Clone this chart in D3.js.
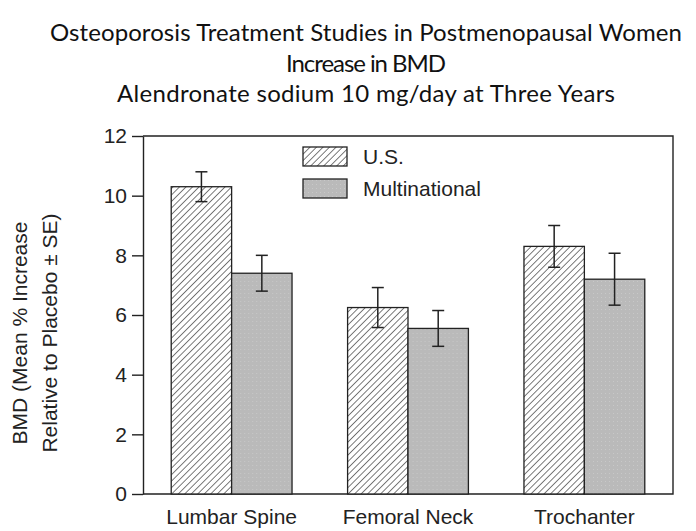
<!DOCTYPE html>
<html lang="en">
<head>
  <meta charset="UTF-8" />
  <title>Increase in BMD - Alendronate</title>
  <style>
    body {
      margin: 0;
      background: #fff;
    }
    .title {
      font-family: Lato, "Open Sans", sans-serif;
      font-size: 24px;
      fill: #111;
    }
    .axis text, .lab {
      font-family: "Liberation Sans", Arial, sans-serif;
      font-size: 21px;
      fill: #222;
    }
    .axis path, .axis line {
      stroke: #222;
      stroke-width: 1.4;
    }
  </style>
</head>
<body>
  <div id="chart"></div>
  <script src="https://d3js.org/d3.v7.min.js"></script>
  <script>
    // data
    var sites = ["Lumbar Spine", "Femoral Neck", "Trochanter"];
    var seriesNames = ["U.S.", "Multinational"];
    var usMean = [10.3, 6.25, 8.3];
    var usSE = [0.5, 0.67, 0.7];
    var multiMean = [7.4, 5.55, 7.2];
    var multiSE = [0.6, 0.6, 0.87];
    var yTicks = [0, 2, 4, 6, 8, 10, 12];
    var titleLines = [
      "Osteoporosis Treatment Studies in Postmenopausal Women",
      "Increase in BMD",
      "Alendronate sodium 10 mg/day at Three Years"
    ];
    var titleWidths = [632, 160, 498];

    var W = 696, H = 531;
    var margin = {top: 136, right: 23, bottom: 37, left: 143},
        width = W - margin.left - margin.right,
        height = H - margin.top - margin.bottom;

    var svg = d3.select("#chart")
      .append("svg")
      .attr("width", W)
      .attr("height", H);

    // patterns
    var defs = svg.append("defs");
    defs.append("pattern")
      .attr("id", "hatch")
      .attr("patternUnits", "userSpaceOnUse")
      .attr("width", 4.6)
      .attr("height", 4.6)
      .attr("patternTransform", "rotate(45)")
      .call(function(p) {
        p.append("rect").attr("width", 4.6).attr("height", 4.6).attr("fill", "#fff");
        p.append("line")
          .attr("x1", 0).attr("y1", 0).attr("x2", 0).attr("y2", 4.6)
          .attr("stroke", "#333").attr("stroke-width", 1.3);
      });
    defs.append("pattern")
      .attr("id", "dots")
      .attr("patternUnits", "userSpaceOnUse")
      .attr("width", 4)
      .attr("height", 4)
      .call(function(p) {
        p.append("rect").attr("width", 4).attr("height", 4).attr("fill", "#bababa");
        p.append("rect").attr("x", 1).attr("y", 1).attr("width", 1).attr("height", 1).attr("fill", "#c8c8c8");
      });
    var fills = ["url(#hatch)", "url(#dots)"];

    // title
    svg.selectAll(".title")
      .data(titleLines)
      .enter()
      .append("text")
      .attr("class", "title")
      .attr("x", 366)
      .attr("y", function(d, i) { return 41 + i * 30.5; })
      .attr("text-anchor", "middle")
      .attr("textLength", function(d, i) { return titleWidths[i]; })
      .attr("lengthAdjust", "spacing")
      .text(function(d) { return d; });

    var g = svg.append("g")
      .attr("transform", "translate(" + margin.left + "," + margin.top + ")");

    var x0 = d3.scaleBand()
      .domain(sites)
      .range([0, width])
      .paddingInner(0.315)
      .paddingOuter(0.16);

    var x1 = d3.scaleBand()
      .domain(seriesNames)
      .range([0, x0.bandwidth()]);

    var y = d3.scaleLinear()
      .domain([0, 12])
      .range([height, 0]);

    var rows = sites.map(function(s, i) {
      return {
        site: s,
        values: [
          {name: seriesNames[0], mean: usMean[i], se: usSE[i]},
          {name: seriesNames[1], mean: multiMean[i], se: multiSE[i]}
        ]
      };
    });

    // frame (top and right)
    g.append("path")
      .attr("d", "M0,0H" + width + "V" + height + "H0")
      .attr("fill", "none")
      .attr("stroke", "#222")
      .attr("stroke-width", 1.4);

    var groups = g.selectAll(".grp")
      .data(rows)
      .enter()
      .append("g")
      .attr("class", "grp")
      .attr("transform", function(d) { return "translate(" + x0(d.site) + ",0)"; });

    groups.selectAll("rect")
      .data(function(d) { return d.values; })
      .enter()
      .append("rect")
      .attr("x", function(d) { return x1(d.name); })
      .attr("y", function(d) { return y(d.mean); })
      .attr("width", x1.bandwidth())
      .attr("height", function(d) { return height - y(d.mean); })
      .attr("fill", function(d, i) { return fills[i]; })
      .attr("stroke", "#222")
      .attr("stroke-width", 1.3);

    // error bars
    var eb = groups.selectAll(".eb")
      .data(function(d) { return d.values; })
      .enter()
      .append("g")
      .attr("class", "eb")
      .attr("stroke", "#222")
      .attr("stroke-width", 1.5);
    eb.append("line")
      .attr("x1", function(d) { return x1(d.name) + x1.bandwidth() / 2; })
      .attr("x2", function(d) { return x1(d.name) + x1.bandwidth() / 2; })
      .attr("y1", function(d) { return y(d.mean + d.se); })
      .attr("y2", function(d) { return y(d.mean - d.se); });
    [1, -1].forEach(function(sign) {
      eb.append("line")
        .attr("x1", function(d) { return x1(d.name) + x1.bandwidth() / 2 - 6; })
        .attr("x2", function(d) { return x1(d.name) + x1.bandwidth() / 2 + 6; })
        .attr("y1", function(d) { return y(d.mean + sign * d.se); })
        .attr("y2", function(d) { return y(d.mean + sign * d.se); });
    });

    // axes
    g.append("g")
      .attr("class", "axis")
      .call(d3.axisLeft(y).tickValues(yTicks).tickSize(11).tickPadding(5).tickSizeOuter(0));

    g.append("g")
      .attr("class", "axis")
      .attr("transform", "translate(0," + height + ")")
      .call(d3.axisBottom(x0).tickSize(0).tickPadding(15).tickSizeOuter(0))
      .select(".domain").remove();

    // y title
    var yt = svg.append("text")
      .attr("class", "lab")
      .attr("transform", "translate(27,333) rotate(-90)")
      .attr("text-anchor", "middle");
    yt.append("tspan").attr("x", 0).attr("y", 0).text("BMD (Mean % Increase");
    yt.append("tspan").attr("x", 0).attr("y", 30).text("Relative to Placebo \u00b1 SE)");

    // legend
    var leg = svg.append("g").attr("transform", "translate(303,147)");
    seriesNames.forEach(function(n, i) {
      leg.append("rect")
        .attr("x", 0).attr("y", i * 32)
        .attr("width", 44).attr("height", 19)
        .attr("fill", fills[i])
        .attr("stroke", "#222")
        .attr("stroke-width", 1.3);
      leg.append("text")
        .attr("class", "lab")
        .attr("x", 60).attr("y", i * 32 + 17)
        .text(n);
    });
  </script>
</body>
</html>
